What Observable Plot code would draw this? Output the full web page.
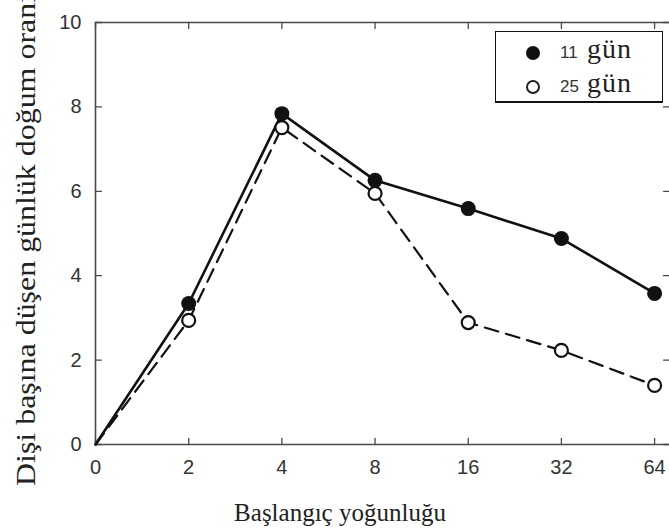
<!DOCTYPE html>
<html>
<head>
<meta charset="utf-8">
<script src="https://cdn.jsdelivr.net/npm/d3@7"></script>
<script src="https://cdn.jsdelivr.net/npm/@observablehq/plot@0.6"></script>
<style>
  html, body { margin: 0; padding: 0; background: #fff; }
  #chart { position: relative; width: 669px; height: 528px; overflow: hidden; }
  #chart svg { display: block; }
  .legend {
    position: absolute; left: 495px; top: 31px; width: 168px; height: 72px;
    box-sizing: border-box; border: 1.6px solid #111; border-bottom-width: 2px;
    background: #fff;
  }
  .legend .row { position: absolute; left: 0; height: 30px; width: 100%; }
  .legend .mark { position: absolute; left: 30px; top: 8px; width: 14px; height: 14px; border-radius: 50%; box-sizing: border-box; }
  .legend .num { position: absolute; left: 64px; top: 5px; font: 17px "Liberation Sans", Arial, sans-serif; color: #333; }
  .legend .unit { position: absolute; left: 91px; top: -5px; font: 28px "Liberation Serif", "Times New Roman", serif; letter-spacing: 1px; color: #222; }
</style>
</head>
<body>
<div id="chart"></div>
<script>
// Initial density groups (equally spaced on the x axis)
const densities = ["0", "2", "4", "8", "16", "32", "64"];
// Daily births per female, counted at day 11 and day 25
const births11 = [0, 3.34, 7.84, 6.26, 5.59, 4.88, 3.58];
const births25 = [0, 2.94, 7.51, 5.95, 2.89, 2.23, 1.40];
const yTicks = [0, 2, 4, 6, 8, 10];
const legendItems = [
  { num: "11", unit: "gün", filled: true },
  { num: "25", unit: "gün", filled: false }
];
const xTitle = "Başlangıç yoğunluğu";
const yTitle = "Dişi başına düşen günlük doğum oranı";

const rows = densities.map((d, i) => ({ i, d, b11: births11[i], b25: births25[i] }));
const idx = densities.map((d, i) => i);
const xMax = 6.16;
const axisColor = "#4a4a4a";
// plain straight tick segment (no arrowhead)
const tickShape = { draw(context, l) { context.moveTo(0, 0); context.lineTo(0, -l); } };
const tick = { length: 6, anchor: "start", shape: tickShape, stroke: axisColor, strokeWidth: 1.3 };

const plot = Plot.plot({
  width: 669,
  height: 528,
  marginLeft: 95,
  marginRight: 0,
  marginTop: 22,
  marginBottom: 84,
  x: { domain: [0, xMax] },
  y: { domain: [0, 10] },
  style: { fontFamily: "'Liberation Sans', Arial, sans-serif", fontSize: "20px", color: "#333", background: "#fff" },
  marks: [
    // box lines
    Plot.ruleX([0], { stroke: axisColor, strokeWidth: 1.6 }),
    Plot.ruleY([0, 10], { stroke: axisColor, strokeWidth: 1.6 }),
    // inward tick marks on all four sides
    Plot.vector(idx, { x: d => d, y: 0, rotate: 0, ...tick }),
    Plot.vector(idx, { x: d => d, y: 10, rotate: 180, ...tick }),
    Plot.vector(yTicks, { x: 0, y: d => d, rotate: 90, ...tick }),
    Plot.vector(yTicks, { x: xMax, y: d => d, rotate: 270, ...tick }),
    // tick labels
    Plot.axisX(idx, { anchor: "bottom", tickSize: 0, tickPadding: 15, tickFormat: i => densities[i], label: null }),
    Plot.axisY(yTicks, { anchor: "left", tickSize: 0, tickPadding: 14, label: null }),
    // series
    Plot.line(rows, { x: "i", y: "b25", stroke: "#111", strokeWidth: 2.2, strokeDasharray: "14,8" }),
    Plot.line(rows, { x: "i", y: "b11", stroke: "#111", strokeWidth: 2.6 }),
    Plot.dot(rows.slice(1), { x: "i", y: "b25", r: 6.5, fill: "#fff", stroke: "#111", strokeWidth: 2.2 }),
    Plot.dot(rows.slice(1), { x: "i", y: "b11", r: 7.5, fill: "#111", stroke: "none" })
  ]
});

const chart = document.getElementById("chart");
chart.appendChild(plot);

// axis titles
const svg = d3.select(plot);
svg.append("text")
  .attr("x", 340).attr("y", 521)
  .attr("text-anchor", "middle")
  .attr("font-family", "'Liberation Serif', 'Times New Roman', serif")
  .attr("font-size", 25)
  .attr("fill", "#222")
  .text(xTitle);
svg.append("text")
  .attr("transform", "translate(35,486) rotate(-90)")
  .attr("text-anchor", "start")
  .attr("font-family", "'Liberation Serif', 'Times New Roman', serif")
  .attr("font-size", 28)
  .attr("textLength", 492)
  .attr("lengthAdjust", "spacingAndGlyphs")
  .attr("fill", "#222")
  .text(yTitle);

// legend box
const legend = d3.select(chart).append("div").attr("class", "legend");
legendItems.forEach((item, k) => {
  const row = legend.append("div").attr("class", "row").style("top", (6 + k * 34) + "px");
  row.append("div").attr("class", "mark")
    .style("background", item.filled ? "#111" : "#fff")
    .style("border", item.filled ? "none" : "2px solid #222");
  row.append("span").attr("class", "num").text(item.num);
  row.append("span").attr("class", "unit").text(item.unit);
});
</script>
</body>
</html>
